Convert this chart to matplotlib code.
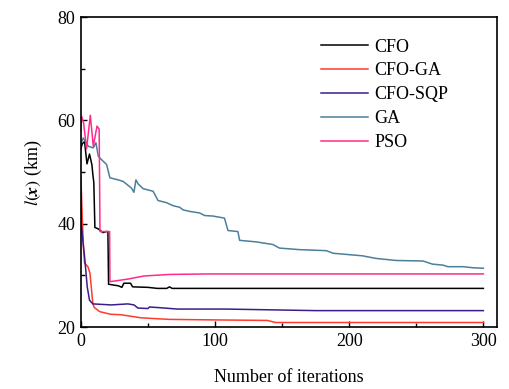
import matplotlib
matplotlib.use("Agg")
import matplotlib.pyplot as plt
from matplotlib.ticker import MultipleLocator

plt.rcParams['font.family'] = ['Liberation Serif', 'DejaVu Serif']
plt.rcParams['mathtext.fontset'] = 'stix'

# CFO
cfo_x = [0, 1, 2.7, 4.5, 6.4, 8.2, 8.9, 9.6, 10.4, 13, 16.4, 18.9, 20.1, 20.6, 28, 30.5, 32, 37, 38.5, 50, 57, 64, 66, 68, 300]
cfo_y = [54.5, 55.5, 55.9, 51.6, 53.5, 51.4, 49.5, 48.0, 39.3, 39.0, 38.3, 38.5, 38.5, 28.3, 28.0, 27.7, 28.5, 28.5, 27.8, 27.7, 27.5, 27.5, 27.8, 27.5, 27.5]

# CFO-GA
cfoga_x = [0, 1, 2, 2.7, 5.2, 6.7, 7.7, 8.9, 10, 14, 22, 30, 40, 45, 66, 100, 139, 145, 300]
cfoga_y = [49, 41, 35, 32.4, 31.7, 30.5, 27.8, 24.5, 23.8, 23.0, 22.5, 22.4, 22.0, 21.8, 21.5, 21.4, 21.3, 20.9, 20.9]

# CFO-SQP
sqp_x = [0, 0.2, 1.5, 2.7, 4.7, 6.4, 8.9, 22.6, 35, 39.6, 42.4, 50, 51, 57, 72, 108, 175, 300]
sqp_y = [46, 40.1, 36.5, 33.7, 27.8, 25.2, 24.5, 24.3, 24.5, 24.3, 23.7, 23.6, 23.9, 23.8, 23.5, 23.5, 23.2, 23.2]

# GA
ga_x = [0, 1.7, 5.5, 9.2, 11.2, 12.9, 15.4, 19.1, 21.6, 27.8, 31.5, 37.7, 39.5, 41, 42.7, 46.4, 53.8, 57.5, 63.7,
        68.7, 73.6, 76.1, 81, 88.5, 92.2, 98.4, 107, 109.6, 117, 118.3, 130.7, 138, 143, 148, 163, 183, 188,
        210, 220, 235, 255, 262, 270, 273.5, 285, 292, 300]
ga_y = [55.5, 56.6, 55.0, 54.7, 55.7, 53.1, 52.4, 51.5, 48.9, 48.5, 48.2, 46.9, 46.1, 48.5, 47.7, 46.8, 46.3, 44.5, 44.1,
        43.5, 43.2, 42.7, 42.4, 42.1, 41.6, 41.5, 41.1, 38.7, 38.5, 36.8, 36.5, 36.2, 36.0, 35.3, 35.0, 34.8, 34.3,
        33.8, 33.3, 32.9, 32.8, 32.2, 32.0, 31.7, 31.7, 31.5, 31.4]

# PSO
pso_x = [0, 0.5, 2, 4.2, 7, 9.2, 12, 13.6, 14.2, 20, 21.4, 21.6, 35, 47, 66, 96, 300]
pso_y = [58, 60.8, 59.5, 54.5, 61, 55, 58.9, 58.3, 38.5, 38.5, 38.5, 28.8, 29.3, 29.9, 30.2, 30.3, 30.3]

series = [
    ("CFO", cfo_x, cfo_y, "#000000"),
    ("CFO-GA", cfoga_x, cfoga_y, "#ff3a2e"),
    ("CFO-SQP", sqp_x, sqp_y, "#3b1e8c"),
    ("GA", ga_x, ga_y, "#4c7f9c"),
    ("PSO", pso_x, pso_y, "#ff2a8c"),
]

fig = plt.figure(figsize=(5.09, 3.89), dpi=100)
ax = fig.add_axes([0.159, 0.159, 0.817, 0.797])

for name, xs, ys, c in series:
    ax.plot(xs, ys, color=c, lw=1.1, label=name)

ax.set_xlim(0, 310)
ax.set_ylim(20, 80)
ax.xaxis.set_major_locator(MultipleLocator(100))
ax.xaxis.set_minor_locator(MultipleLocator(50))
ax.yaxis.set_major_locator(MultipleLocator(20))
ax.yaxis.set_minor_locator(MultipleLocator(10))
ax.tick_params(which='both', direction='in', labelsize=13, pad=4)
ax.tick_params(which='major', length=4, width=1)
ax.tick_params(which='minor', length=3, width=1)
for s in ax.spines.values():
    s.set_linewidth(1.2)

ax.set_xlabel("Number of iterations", fontsize=13, labelpad=14)
ax.set_ylabel(r"$l(\boldsymbol{x})$ (km)", fontsize=13, labelpad=10)

ax.legend(loc='upper left', bbox_to_anchor=(0.555, 0.96), frameon=False, fontsize=13,
          handlelength=2.6, handletextpad=0.35, labelspacing=0.38, borderpad=0)

fig.savefig("out.png", dpi=100)
